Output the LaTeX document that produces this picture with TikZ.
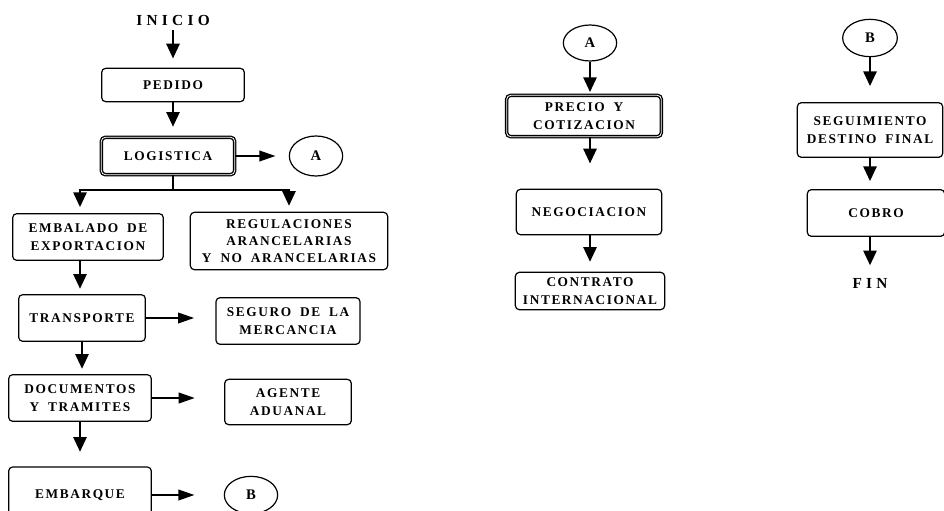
\documentclass[tikz,border=0pt]{standalone}
\usepackage{fontspec}
\setmainfont{Liberation Serif}
\newfontfamily\flowfont[LetterSpace=12,WordSpace=1.8]{Liberation Serif}
\newfontfamily\endfont[LetterSpace=28]{Liberation Serif}
\usetikzlibrary{positioning,shapes.geometric,arrows.meta}

\begin{document}
\begin{tikzpicture}[
          x=0.75pt,y=-0.75pt,
          box/.style={draw,line width=0.9pt,rounded corners=3pt,align=center,inner sep=2pt,
            font=\flowfont\bfseries\fontsize{10}{13}\selectfont},
          thickbox/.style={box,double,double distance=0.6pt,line width=1pt},
          conn/.style={draw,ellipse,line width=0.9pt,inner sep=0pt,
            font=\flowfont\bfseries\fontsize{11}{13}\selectfont},
          term/.style={font=\endfont\bfseries\fontsize{11.5}{13}\selectfont},
          arr/.style={line width=1.2pt,-{Triangle[length=11pt,width=10pt]}},
          harr/.style={line width=1.2pt,-{Triangle[length=12pt,width=8pt]}}
            ]
            \useasboundingbox (0,0) rectangle (944,510);
            % left column
            \node[term] (inicio) at (173,20) {INICIO};
            \node[box,minimum width=107pt,minimum height=25pt] (pedido) at (173,85) {PEDIDO};
            \node[thickbox,minimum width=100pt,minimum height=28pt] (logistica) at (168,156) {LOGISTICA};
            \node[conn,minimum width=40pt,minimum height=30pt] (a1) at (316,156) {A};
            \node[box,minimum width=113pt,minimum height=35pt] (embalado) at (88,237) {EMBALADO DE\\EXPORTACION};
            \node[box,minimum width=148pt,minimum height=43pt] (regulaciones) at (289,241) {REGULACIONES\\ARANCELARIAS\\Y NO ARANCELARIAS};
            \node[box,minimum width=95pt,minimum height=35pt] (transporte) at (82,318) {TRANSPORTE};
            \node[box,minimum width=108pt,minimum height=35pt] (seguro) at (288,321) {SEGURO DE LA\\MERCANCIA};
            \node[box,minimum width=107pt,minimum height=35pt] (documentos) at (80,398) {DOCUMENTOS\\Y TRAMITES};
            \node[box,minimum width=95pt,minimum height=34pt] (agente) at (288,402) {AGENTE\\ADUANAL};
            \node[box,minimum width=107pt,minimum height=42pt] (embarque) at (80,495) {EMBARQUE};
            \node[conn,minimum width=40pt,minimum height=28pt] (b1) at (251,495) {B};
            % middle column
            \node[conn,minimum width=40pt,minimum height=27pt] (a2) at (590,43) {A};
            \node[thickbox,minimum width=116pt,minimum height=31pt] (precio) at (584,116) {PRECIO Y\\COTIZACION};
            \node[box,minimum width=109pt,minimum height=34pt] (negociacion) at (589,212) {NEGOCIACION};
            \node[box,minimum width=112pt,minimum height=28pt] (contrato) at (590,291) {CONTRATO\\INTERNACIONAL};
            % right column
            \node[conn,minimum width=41pt,minimum height=28pt] (b2) at (870,38) {B};
            \node[box,minimum width=109pt,minimum height=41pt] (seguimiento) at (870,130) {SEGUIMIENTO\\DESTINO FINAL};
            \node[box,minimum width=103pt,minimum height=35pt] (cobro) at (876,213) {COBRO};
            \node[term] (fin) at (870,283) {FIN};
            \coordinate (split) at (173,190);
            % connectors
            \draw[arr,shorten >=7pt] (inicio) -- (pedido);
            \draw[arr,shorten >=7.5pt] (pedido) -- (pedido |- logistica.north);
            \draw[harr,shorten >=10pt] (logistica) -- (a1);
            \draw[line width=1.2pt] (logistica.south -| pedido) -- (split);
            \draw[arr,shorten >=4.5pt] (split) -| ([xshift=-6pt]embalado.north);
            \draw[arr,shorten >=4.5pt] (split) -| (regulaciones.north);
            \draw[arr,shorten >=4pt] ([xshift=-6pt]embalado.south) -- ([xshift=-6pt]embalado.south |- transporte.north);
            \draw[harr,shorten >=16pt] (transporte) -- (transporte -| seguro.west);
            \draw[arr,shorten >=4pt] (transporte.south) -- (transporte.south |- documentos.north);
            \draw[harr,shorten >=22pt] (documentos) -- (documentos -| agente.west);
            \draw[arr,shorten >=11pt] (documentos.south) -- (documentos.south |- embarque.north);
            \draw[harr,shorten >=22pt] (embarque) -- (b1);
            \draw[arr,shorten >=2pt] (a2) -- (a2 |- precio.north);
            \draw[arr,shorten >=19pt] (precio.south -| a2) -- (a2 |- negociacion.north);
            \draw[arr,shorten >=7.5pt] (negociacion.south -| a2) -- (a2 |- contrato.north);
            \draw[arr,shorten >=12pt] (b2) -- (b2 |- seguimiento.north);
            \draw[arr,shorten >=6pt] (seguimiento.south -| b2) -- (b2 |- cobro.north);
            \draw[arr,shorten >=6pt] (cobro.south -| b2) -- (b2 |- fin.north);
            \end{tikzpicture}
\end{document}
